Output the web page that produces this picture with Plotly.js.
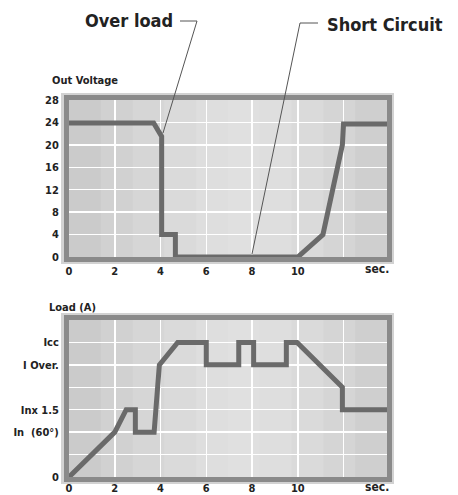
<!DOCTYPE html>
<html>
<head>
<meta charset="utf-8">
<script src="https://cdn.plot.ly/plotly-3.0.1.min.js"></script>
<style>html,body{margin:0;padding:0;background:#fff;}#chart{width:458px;height:495px;}</style>
</head>
<body>
<div id="chart"></div>
<script>
// Output voltage vs time
var voltTime  = [0, 3.7, 4.05, 4.05, 4.65, 4.65, 10.0, 11.1, 11.95, 12.0, 13.95];
var voltValue = [23.9, 23.9, 21.5, 4.0, 4.0, 0, 0, 4, 20, 23.7, 23.7];
// Load current vs time (levels: 2 = In, 3 = In x1.5, 5 = I Over., 6 = Icc)
var loadTime  = [0, 2.0, 2.5, 2.9, 2.9, 3.72, 3.95, 4.75, 6.0, 6.0, 7.42, 7.42, 8.07, 8.07, 9.5, 9.5, 9.97, 11.95, 11.95, 13.95];
var loadValue = [0, 2, 3, 3, 2, 2, 5, 6, 6, 5, 5, 6, 6, 5, 5, 6, 6, 4, 3, 3];

var voltTicks = [0, 4, 8, 12, 16, 20, 24, 28];
var timeTicks = [0, 2, 4, 6, 8, 10, 12];
var timeLabels = ['0', '2', '4', '6', '8', '10', ''];
var loadTicks = [0, 1, 2, 3, 4, 5, 6, 7];
var loadLabels = ['0', '', 'In  (60°)', 'Inx 1.5', '', 'I Over.', 'Icc', ''];

var W = 458, H = 495;
function px(x){ return x / W; }
function py(y){ return 1 - y / H; }

var FONT = '"DejaVu Sans Condensed", "Liberation Sans Narrow", "Arial Narrow", sans-serif';
var tickFont = {family: FONT, size: 11, color: '#222', weight: 700, stretch: 'condensed'};

var lineStyle = {color: '#6a6a6a', width: 5, shape: 'linear'};

var traces = [
  {x: voltTime, y: voltValue, xaxis: 'x', yaxis: 'y', mode: 'lines', line: lineStyle, hoverinfo: 'none', cliponaxis: false},
  {x: loadTime, y: loadValue, xaxis: 'x2', yaxis: 'y2', mode: 'lines', line: lineStyle, hoverinfo: 'none', cliponaxis: false}
];

function xAxis(domain, anchor, standoff){
  return {
    domain: domain, anchor: anchor, range: [0, 13.9],
    tickvals: timeTicks, ticktext: timeLabels,
    showgrid: true, gridcolor: '#ffffff', gridwidth: 1.5,
    showline: true, linecolor: '#8a8a8a', linewidth: 5, mirror: true,
    zeroline: false, ticks: '', tickfont: tickFont, ticklabelstandoff: standoff,
    fixedrange: true
  };
}

// background shading strips (lighter towards centre)
var stripColors = ['#cbcbcb', '#d1d1d1', '#d6d6d6', '#dadada', '#dedede', '#e0e0e0', '#dedede', '#dadada', '#d5d5d5', '#cfcfcf'];
var shapes = [
  {type: 'rect', xref: 'paper', yref: 'paper', x0: px(61), x1: px(394), y0: py(264), y1: py(93),
   fillcolor: '#d2d2d2', line: {width: 0}, layer: 'below'},
  {type: 'rect', xref: 'paper', yref: 'paper', x0: px(61), x1: px(394), y0: py(484), y1: py(313),
   fillcolor: '#d2d2d2', line: {width: 0}, layer: 'below'}
];
['x', 'x2'].forEach(function(ax){
  var yr = ax === 'x' ? 'y domain' : 'y2 domain';
  for (var i = 0; i < stripColors.length; i++) {
    shapes.push({type: 'rect', xref: ax + ' domain', yref: yr, x0: i / stripColors.length, x1: (i + 1) / stripColors.length + 0.002,
      y0: 0, y1: 1, fillcolor: stripColors[i], line: {width: 0}, layer: 'below'});
  }
});
shapes.push(
  {type: 'line', xref: 'paper', yref: 'paper', x0: px(180), y0: py(21), x1: px(197), y1: py(21), line: {color: '#555', width: 1}},
  {type: 'line', xref: 'paper', yref: 'paper', x0: px(197), y0: py(21), x1: px(163), y1: py(133), line: {color: '#555', width: 1}},
  {type: 'line', xref: 'paper', yref: 'paper', x0: px(300), y0: py(23), x1: px(318), y1: py(23), line: {color: '#555', width: 1}},
  {type: 'line', xref: 'paper', yref: 'paper', x0: px(300), y0: py(23), x1: px(252), y1: py(254), line: {color: '#555', width: 1}}
);

var layout = {
  width: W, height: H,
  margin: {l: 0, r: 0, t: 0, b: 0},
  paper_bgcolor: '#ffffff',
  plot_bgcolor: '#d8d8d8',
  showlegend: false,
  xaxis: xAxis([px(69), px(387)], 'y', 0),
  yaxis: {
    domain: [py(257), py(100)], anchor: 'x', range: [0, 28],
    tickvals: voltTicks,
    showgrid: true, gridcolor: '#ffffff', gridwidth: 1.5,
    showline: true, linecolor: '#8a8a8a', linewidth: 5, mirror: true,
    zeroline: false, ticks: '', tickfont: tickFont, ticklabelstandoff: 3,
    fixedrange: true
  },
  xaxis2: xAxis([px(69), px(387)], 'y2', -3),
  yaxis2: {
    domain: [py(477), py(320)], anchor: 'x2', range: [0, 7],
    tickvals: loadTicks, ticktext: loadLabels,
    showgrid: true, gridcolor: '#ffffff', gridwidth: 1.5,
    showline: true, linecolor: '#8a8a8a', linewidth: 5, mirror: true,
    zeroline: false, ticks: '', tickfont: tickFont, ticklabelstandoff: 3,
    fixedrange: true
  },
  shapes: shapes,
  annotations: [
    {text: 'Over load', xref: 'paper', yref: 'paper', x: px(129), y: py(20), xanchor: 'center', yanchor: 'middle', showarrow: false,
     font: {family: FONT, size: 18, color: '#222', weight: 700, stretch: 'condensed'}},
    {text: 'Short Circuit', xref: 'paper', yref: 'paper', x: px(385), y: py(25), xanchor: 'center', yanchor: 'middle', showarrow: false,
     font: {family: FONT, size: 18, color: '#222', weight: 700, stretch: 'condensed'}},
    {text: 'Out Voltage', xref: 'paper', yref: 'paper', x: px(50), y: py(81), xanchor: 'left', yanchor: 'middle', showarrow: false,
     font: {family: FONT, size: 11, color: '#222', weight: 700, stretch: 'condensed'}},
    {text: 'Load (A)', xref: 'paper', yref: 'paper', x: px(47), y: py(307), xanchor: 'left', yanchor: 'middle', showarrow: false,
     font: {family: FONT, size: 11, color: '#222', weight: 700, stretch: 'condensed'}},
    {text: 'sec.', xref: 'paper', yref: 'paper', x: px(377), y: py(269), xanchor: 'center', yanchor: 'middle', showarrow: false,
     font: {family: FONT, size: 12, color: '#222', weight: 700, stretch: 'condensed'}},
    {text: 'sec.', xref: 'paper', yref: 'paper', x: px(377), y: py(487), xanchor: 'center', yanchor: 'middle', showarrow: false,
     font: {family: FONT, size: 12, color: '#222', weight: 700, stretch: 'condensed'}}
  ]
};

Plotly.newPlot('chart', traces, layout, {displayModeBar: false, staticPlot: true});
</script>
</body>
</html>
